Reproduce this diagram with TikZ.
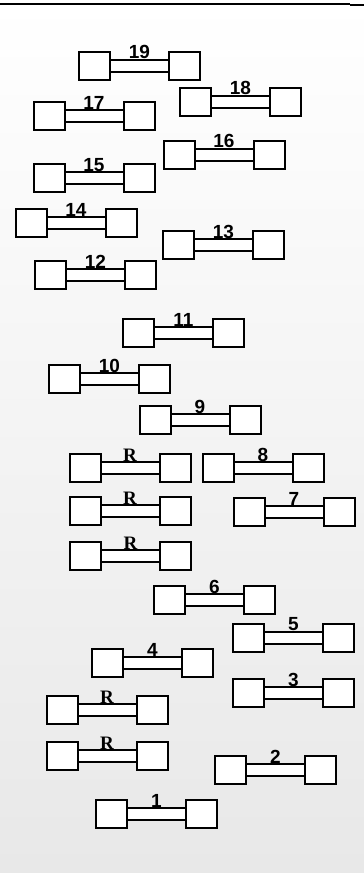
\documentclass[tikz,border=0pt]{standalone}
\usepackage{fontspec}
\usepackage{tikz}
\setmainfont{Liberation Sans}
\newfontfamily\serifR{Liberation Serif}
\definecolor{stipple}{RGB}{232,232,232}

\begin{document}
\begin{tikzpicture}[x=1pt, y=-1pt,
    sq/.style={rectangle, draw=black, fill=white, line width=2pt,
               minimum width=31pt, minimum height=28pt, inner sep=0pt},
    bar/.style={draw=black, line width=2pt, double=white, double distance=10pt},
    lbl/.style={midway, above=5.5pt, inner sep=0pt, font=\bfseries\fontsize{19}{19}\selectfont}
]
% page and scanned background
\useasboundingbox (0,0) rectangle (364,873);
\shade[shading angle=35, top color=white, bottom color=stipple] (0,0) rectangle (364,873);
\draw[line width=2pt] (0,4) -- (350,4);
\draw[line width=1.5pt] (350,5) -- (364,5);

\node[sq] (b19l) at (94.5,65.5) {};  \node[sq] (b19r) at (184.5,65.5) {};
\node[sq] (b18l) at (195.5,101.5) {}; \node[sq] (b18r) at (285.5,101.5) {};
\node[sq] (b17l) at (49,116) {};     \node[sq] (b17r) at (139,116) {};
\node[sq] (b16l) at (179,154.5) {};  \node[sq] (b16r) at (269,154.5) {};
\node[sq] (b15l) at (49,178) {};     \node[sq] (b15r) at (139,178) {};
\node[sq] (b14l) at (31,222.5) {};   \node[sq] (b14r) at (121,222.5) {};
\node[sq] (b13l) at (178.5,245) {};  \node[sq] (b13r) at (268.5,245) {};
\node[sq] (b12l) at (50.5,275) {};   \node[sq] (b12r) at (140.5,275) {};
\node[sq] (b11l) at (138.5,332.5) {}; \node[sq] (b11r) at (228.5,332.5) {};
\node[sq] (b10l) at (64.5,379) {};   \node[sq] (b10r) at (154.5,379) {};
\node[sq] (b9l)  at (155,420) {};    \node[sq] (b9r)  at (245,420) {};
\node[sq] (rAl)  at (85,468) {};     \node[sq] (rAr)  at (175,468) {};
\node[sq] (b8l)  at (218,468) {};    \node[sq] (b8r)  at (308,468) {};
\node[sq] (rBl)  at (85,511) {};     \node[sq] (rBr)  at (175,511) {};
\node[sq] (b7l)  at (249,512) {};    \node[sq] (b7r)  at (339,512) {};
\node[sq] (rCl)  at (85.5,556) {};   \node[sq] (rCr)  at (175.5,556) {};
\node[sq] (b6l)  at (169.5,600) {};  \node[sq] (b6r)  at (259.5,600) {};
\node[sq] (b5l)  at (248.5,637.5) {}; \node[sq] (b5r) at (338.5,637.5) {};
\node[sq] (b4l)  at (107.5,663) {};  \node[sq] (b4r)  at (197.5,663) {};
\node[sq] (b3l)  at (248.5,693) {};  \node[sq] (b3r)  at (338.5,693) {};
\node[sq] (rDl)  at (62,710) {};     \node[sq] (rDr)  at (152,710) {};
\node[sq] (rEl)  at (62,756) {};     \node[sq] (rEr)  at (152,756) {};
\node[sq] (b2l)  at (230.5,769.5) {}; \node[sq] (b2r) at (320.5,769.5) {};
\node[sq] (b1l)  at (111.5,814) {};  \node[sq] (b1r)  at (201.5,814) {};

% bars with their numbers
\draw[bar] (b19l) -- node[lbl]{19} (b19r);
\draw[bar] (b18l) -- node[lbl]{18} (b18r);
\draw[bar] (b17l) -- node[lbl]{17} (b17r);
\draw[bar] (b16l) -- node[lbl]{16} (b16r);
\draw[bar] (b15l) -- node[lbl]{15} (b15r);
\draw[bar] (b14l) -- node[lbl]{14} (b14r);
\draw[bar] (b13l) -- node[lbl]{13} (b13r);
\draw[bar] (b12l) -- node[lbl]{12} (b12r);
\draw[bar] (b11l) -- node[lbl]{11} (b11r);
\draw[bar] (b10l) -- node[lbl]{10} (b10r);
\draw[bar] (b9l)  -- node[lbl]{9} (b9r);
\draw[bar] (rAl)  -- node[lbl]{\serifR R} (rAr);
\draw[bar] (b8l)  -- node[lbl]{8} (b8r);
\draw[bar] (rBl)  -- node[lbl]{\serifR R} (rBr);
\draw[bar] (b7l)  -- node[lbl]{7} (b7r);
\draw[bar] (rCl)  -- node[lbl]{\serifR R} (rCr);
\draw[bar] (b6l)  -- node[lbl]{6} (b6r);
\draw[bar] (b5l)  -- node[lbl]{5} (b5r);
\draw[bar] (b4l)  -- node[lbl]{4} (b4r);
\draw[bar] (b3l)  -- node[lbl]{3} (b3r);
\draw[bar] (rDl)  -- node[lbl]{\serifR R} (rDr);
\draw[bar] (rEl)  -- node[lbl]{\serifR R} (rEr);
\draw[bar] (b2l)  -- node[lbl]{2} (b2r);
\draw[bar] (b1l)  -- node[lbl]{1} (b1r);
\end{tikzpicture}
\end{document}
